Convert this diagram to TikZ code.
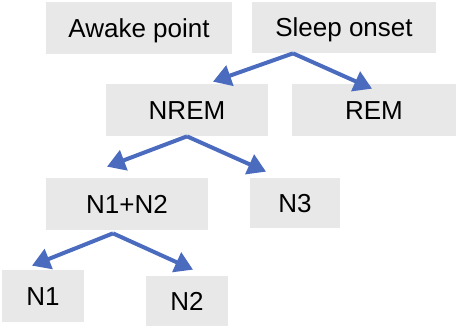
\documentclass[tikz,border=0pt]{standalone}
\usepackage{fontspec}
\setmainfont{Liberation Sans}
\usetikzlibrary{arrows.meta,calc}
\newcommand{\BoxFont}{\fontsize{14.8}{17}\selectfont}
\definecolor{stagegray}{HTML}{E8E8E8}
\definecolor{branchblue}{HTML}{4A6BBE}
% one parent splitting into two children
\newcommand{\Branch}[6]{%
  \draw[branch] ($(#1)+(#2)$) -- ($(#3)+(#4)$);
  \draw[branch] ($(#1)+(#2)$) -- ($(#5)+(#6)$);
}

\begin{document}
\begin{tikzpicture}[x=.02cm,y=.02cm,text=black,
  stagebox/.style={fill=stagegray,draw=none,inner sep=0pt,font=\BoxFont,
    text height=.72em+.12cm,text depth=0pt},
  branch/.style={draw=branchblue,line width=.08cm,line join=round,
    -{Triangle[length=.36cm,width=.42cm]}}]
  \useasboundingbox (0,0) rectangle (456,328);
  \node[stagebox,minimum width=186*.02cm,minimum height=52*.02cm] (awake) at (139,300) {Awake point};
  \node[stagebox,minimum width=184*.02cm,minimum height=51*.02cm] (onset) at (344,300.5) {Sleep onset};
  \node[stagebox,minimum width=162*.02cm,minimum height=52*.02cm] (nrem) at (187,218) {NREM};
  \node[stagebox,minimum width=164*.02cm,minimum height=52*.02cm] (rem) at (374,218) {REM};
  \node[stagebox,minimum width=162*.02cm,minimum height=52*.02cm] (nonetwo) at (127,124) {N1+N2};
  \node[stagebox,minimum width=90*.02cm,minimum height=50*.02cm] (nthree) at (295,125) {N3};
  \node[stagebox,minimum width=82*.02cm,minimum height=52*.02cm] (none) at (43,32) {N1};
  \node[stagebox,minimum width=82*.02cm,minimum height=50*.02cm] (ntwo) at (187,27) {N2};
  \Branch{onset.south}{-51,0}{nrem.north}{26,2}{rem.north}{-2,-5}
  \Branch{nrem.south}{0,0}{nonetwo.north}{-20,11}{nthree.north}{-29,6}
  \Branch{nonetwo.south}{-14,-3}{none.north}{-11,4}{ntwo.north}{6,6}
\end{tikzpicture}
\end{document}
